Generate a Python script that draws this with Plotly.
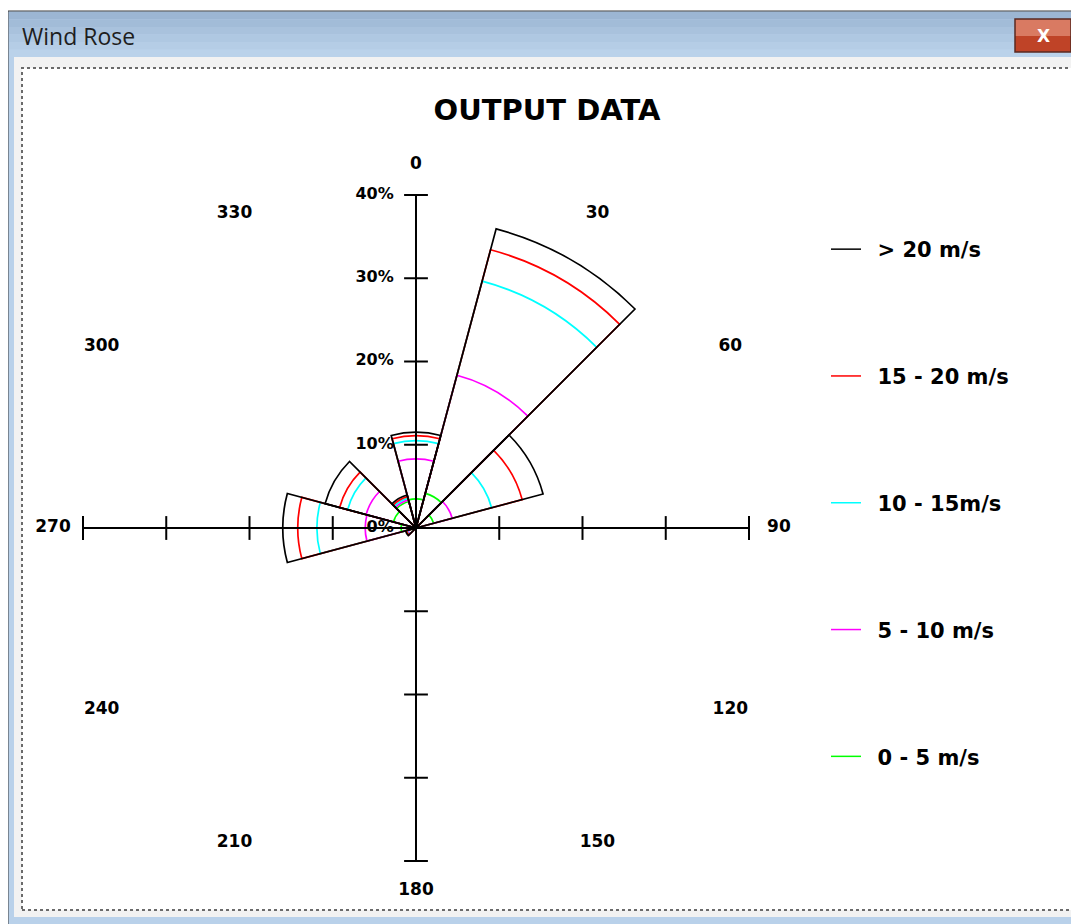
import numpy as np
import plotly.graph_objects as go

# ---------------- data ----------------
directions = [0, 30, 60, 90, 120, 150, 180, 210, 240, 270, 300, 330]
dir_labels = ["0", "30", "60", "90", "120", "150", "180", "210", "240", "270", "300", "330"]
classes = ["0 - 5 m/s", "5 - 10 m/s", "10 - 15m/s", "15 - 20 m/s", "> 20 m/s"]
class_colors = ["#00ff00", "#ff00ff", "#00ffff", "#ff0000", "#000000"]
# frequency (%) per speed class for each direction
freq_0_5 = [3.5, 4.3, 2.2, 0, 0, 0, 0, 0, 0.5, 1.8, 2.8, 3.3]
freq_5_10 = [4.8, 14.7, 2.3, 0, 0, 0, 0, 0, 0.5, 4.3, 3.4, 0.2]
freq_10_15 = [2.2, 11.7, 4.9, 0, 0, 0, 0, 0, 0.1, 5.8, 2.3, 0.2]
freq_15_20 = [0.6, 3.9, 3.8, 0, 0, 0, 0, 0, 0.1, 2.3, 1.0, 0.2]
freq_gt_20 = [0.4, 2.6, 2.6, 0, 0, 0, 0, 0, 0.1, 1.8, 1.8, 0.2]
radial_ticks = [0, 10, 20, 30, 40]
radial_labels = ["0%", "10%", "20%", "30%", "40%"]
r_max = 40          # length of the drawn axes
r_range = 44        # radial range of the polar subplot (room for labels)
label_r = 43.6      # radius (in axis units) where the direction labels sit

# the page body has an 8px margin: the figure is placed at (8, 8) in the window
OFF = 8
W, H = 1079 - OFF, 924 - OFF


def px(x):
    return (x - OFF) / W


def py(y):
    return 1 - (y - OFF) / H


# centre of the rose and pixel radius of the polar range
CX, CY = 416, 528
R_PIX = 333 * r_range / r_max

cum = np.cumsum(np.array([freq_0_5, freq_5_10, freq_10_15, freq_15_20, freq_gt_20]), axis=0)

fig = go.Figure()

# sectors (outlined)
for name, color, rvals in zip(classes, class_colors, cum):
    fig.add_trace(go.Barpolar(
        theta=directions, r=rvals, width=30, name=name, showlegend=False,
        marker=dict(color="rgba(0,0,0,0)", line=dict(color=color, width=1.7)),
        hoverinfo="skip",
    ))

# cross axes
fig.add_trace(go.Scatterpolar(
    r=[0, r_max, None, 0, r_max, None, 0, r_max, None, 0, r_max],
    theta=[0, 0, None, 90, 90, None, 180, 180, None, 270, 270],
    mode="lines", line=dict(color="black", width=2), showlegend=False, hoverinfo="skip",
))
tick_r = radial_ticks[1:]
fig.add_trace(go.Scatterpolar(
    r=tick_r + tick_r, theta=[0] * len(tick_r) + [180] * len(tick_r), mode="markers",
    marker=dict(symbol="line-ew", size=17, line=dict(color="black", width=2)),
    showlegend=False, hoverinfo="skip",
))
fig.add_trace(go.Scatterpolar(
    r=tick_r + tick_r, theta=[90] * len(tick_r) + [270] * len(tick_r), mode="markers",
    marker=dict(symbol="line-ns", size=17, line=dict(color="black", width=2)),
    showlegend=False, hoverinfo="skip",
))
# radial labels
fig.add_trace(go.Scatterpolar(
    r=radial_ticks, theta=[0] * len(radial_ticks), mode="text",
    text=[t + "\u00a0\u00a0\u00a0\u00a0" for t in radial_labels], textposition="middle left",
    textfont=dict(family="DejaVu Sans", size=16, color="black", weight="bold"),
    cliponaxis=False, showlegend=False, hoverinfo="skip",
))
# direction labels
fig.add_trace(go.Scatterpolar(
    r=[label_r] * len(directions), theta=directions, mode="text", text=dir_labels,
    textposition="middle center",
    textfont=dict(family="DejaVu Sans", size=17, color="black", weight="bold"),
    cliponaxis=False, showlegend=False, hoverinfo="skip",
))

# legend entries (top to bottom)
for name, color in reversed(list(zip(classes, class_colors))):
    fig.add_trace(go.Scatterpolar(
        r=[None], theta=[None], mode="lines", name="\u00a0\u2009" + name,
        line=dict(color=color, width=1.5), legendgroup=name, showlegend=True,
    ))

shapes = []
# window frame
shapes.append(dict(type="rect", xref="paper", yref="paper", x0=px(8), x1=px(1077), y0=py(928), y1=py(11),
                   fillcolor="#b9d1ea", line=dict(color="#3a3a3a", width=1), layer="below"))
grad = ["#9cb6d3", "#a2bcd8", "#a9c2dd", "#afc8e2", "#b5cde6", "#bad2ea"]
n = len(grad)
for k, c in enumerate(grad):
    y0 = 12 + k * 45 / n
    y1 = 12 + (k + 1) * 45 / n
    shapes.append(dict(type="rect", xref="paper", yref="paper", x0=px(9), x1=px(1076.5), y0=py(y1), y1=py(y0),
                       fillcolor=c, line=dict(width=0), layer="below"))
shapes.append(dict(type="rect", xref="paper", yref="paper", x0=px(14), x1=px(1076.5), y0=py(917), y1=py(57),
                   fillcolor="#f2f2f2", line=dict(width=0), layer="below"))
shapes.append(dict(type="rect", xref="paper", yref="paper", x0=px(22), x1=px(1072), y0=py(910), y1=py(68),
                   fillcolor="white", line=dict(color="#6a6a6a", width=2, dash="dot"), layer="below"))
# close button
shapes.append(dict(type="rect", xref="paper", yref="paper", x0=px(1015), x1=px(1071), y0=py(36), y1=py(19),
                   fillcolor="#d97a62", line=dict(width=0), layer="below"))
shapes.append(dict(type="rect", xref="paper", yref="paper", x0=px(1015), x1=px(1071), y0=py(52), y1=py(36),
                   fillcolor="#bf4327", line=dict(width=0), layer="below"))
shapes.append(dict(type="rect", xref="paper", yref="paper", x0=px(1015), x1=px(1071), y0=py(52), y1=py(19),
                   fillcolor="rgba(0,0,0,0)", line=dict(color="#5a2a22", width=1.5), layer="below"))

annotations = [
    dict(text="Wind Rose", xref="paper", yref="paper", x=px(20), y=py(36), xanchor="left", yanchor="middle",
         showarrow=False, font=dict(family="Open Sans", size=23, color="#1e1e1e")),
    dict(text="<b>X</b>", xref="paper", yref="paper", x=px(1043), y=py(36), xanchor="center", yanchor="middle",
         showarrow=False, font=dict(family="DejaVu Sans", size=17, color="white")),
]

fig.update_layout(
    width=W, height=H, autosize=False,
    margin=dict(l=0, r=0, t=0, b=0),
    paper_bgcolor="white",
    font=dict(family="DejaVu Sans", color="black"),
    title=dict(text="<b>OUTPUT DATA</b>", x=px(547), y=py(110), xanchor="center", yanchor="middle",
               font=dict(family="DejaVu Sans", size=29, color="black")),
    polar=dict(
        barmode="overlay",
        domain=dict(x=[px(CX - R_PIX), px(CX + R_PIX)], y=[py(CY + R_PIX), py(CY - R_PIX)]),
        bgcolor="rgba(0,0,0,0)",
        radialaxis=dict(range=[0, r_range], showline=False, showgrid=False, showticklabels=False, ticks=""),
        angularaxis=dict(direction="clockwise", rotation=90, showline=False, showgrid=False,
                         showticklabels=False, ticks=""),
    ),
    legend=dict(x=px(826), y=py(229), xanchor="left", yanchor="top", tracegroupgap=96.5,
                bgcolor="rgba(0,0,0,0)",
                font=dict(family="DejaVu Sans", size=21, color="black", weight="bold")),
    shapes=shapes,
    annotations=annotations,
)

fig.write_html("out.html")
